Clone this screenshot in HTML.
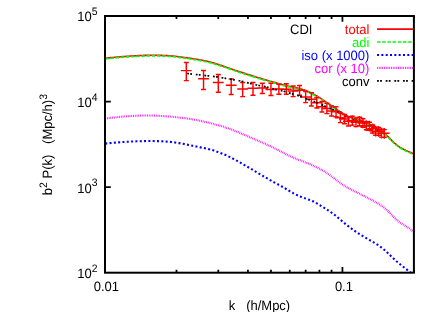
<!DOCTYPE html>
<html><head><meta charset="utf-8"><title>CDI</title>
<style>
html,body{margin:0;padding:0;background:#fff;}
body{width:436px;height:312px;overflow:hidden;font-family:"Liberation Sans",sans-serif;}
svg{display:block;will-change:transform;}
svg text{font-family:"Liberation Sans",sans-serif;font-size:13.5px;white-space:pre;text-rendering:geometricPrecision;}
</style></head><body>
<svg width="436" height="312" viewBox="0 0 436 312">
<rect width="436" height="312" fill="#fff"/>
<defs><clipPath id="c"><rect x="105.0" y="16.0" width="308.9" height="256.7"/></clipPath></defs>
<g fill="none" stroke-width="1.7" stroke-linejoin="round" clip-path="url(#c)">
<path d="M105.25,58.30 L107.19,58.08 L109.13,57.86 L111.07,57.66 L113.01,57.46 L114.95,57.28 L116.89,57.10 L118.83,56.93 L120.77,56.77 L122.71,56.61 L124.65,56.47 L126.59,56.33 L128.53,56.20 L130.47,56.07 L132.41,55.95 L134.35,55.84 L136.29,55.73 L138.23,55.63 L140.17,55.55 L142.11,55.47 L144.06,55.40 L146.00,55.35 L147.94,55.30 L149.88,55.27 L151.82,55.25 L153.76,55.25 L155.70,55.26 L157.64,55.29 L159.58,55.33 L161.52,55.39 L163.46,55.47 L165.40,55.56 L167.34,55.67 L169.28,55.80 L171.22,55.95 L173.16,56.12 L175.10,56.31 L177.04,56.51 L178.98,56.74 L180.92,56.99 L182.86,57.25 L184.80,57.52 L186.74,57.80 L188.68,58.09 L190.62,58.39 L192.56,58.69 L194.50,58.99 L196.44,59.30 L198.38,59.63 L200.32,59.97 L202.26,60.33 L204.20,60.71 L206.14,61.13 L208.08,61.58 L210.02,62.06 L211.96,62.58 L213.90,63.14 L215.84,63.73 L217.78,64.34 L219.72,64.97 L221.67,65.62 L223.61,66.28 L225.55,66.95 L227.49,67.63 L229.43,68.30 L231.37,68.97 L233.31,69.64 L235.25,70.30 L237.19,70.95 L239.13,71.60 L241.07,72.24 L243.01,72.88 L244.95,73.51 L246.89,74.14 L248.83,74.76 L250.77,75.37 L252.71,75.98 L254.65,76.58 L256.59,77.18 L258.53,77.77 L260.47,78.36 L262.41,78.94 L264.35,79.51 L266.29,80.08 L268.23,80.65 L270.17,81.21 L272.11,81.77 L274.05,82.33 L275.99,82.88 L277.93,83.43 L279.87,83.97 L281.81,84.50 L283.75,85.01 L285.69,85.50 L287.63,85.97 L289.57,86.41 L291.51,86.82 L293.45,87.21 L295.39,87.61 L297.33,88.04 L299.28,88.51 L301.22,89.04 L303.16,89.65 L305.10,90.34 L307.04,91.10 L308.98,91.93 L310.92,92.84 L312.86,93.82 L314.80,94.88 L316.74,95.99 L318.68,97.17 L320.62,98.40 L322.56,99.67 L324.50,100.98 L326.44,102.32 L328.38,103.67 L330.32,105.02 L332.26,106.37 L334.20,107.71 L336.14,109.03 L338.08,110.33 L340.02,111.61 L341.96,112.87 L343.90,114.07 L345.84,115.19 L347.78,116.20 L349.72,117.09 L351.66,117.82 L353.60,118.43 L355.54,118.98 L357.48,119.53 L359.42,120.11 L361.36,120.79 L363.30,121.56 L365.24,122.43 L367.18,123.36 L369.12,124.34 L371.06,125.36 L373.00,126.41 L374.94,127.47 L376.89,128.54 L378.83,129.61 L380.77,130.75 L382.71,132.03 L384.65,133.53 L386.59,135.27 L388.53,137.16 L390.47,139.12 L392.41,141.07 L394.35,142.92 L396.29,144.58 L398.23,146.04 L400.17,147.34 L402.11,148.49 L404.05,149.52 L405.99,150.48 L407.93,151.37 L409.87,152.24 L411.81,153.10 L413.75,154.00" stroke="#ff0000" stroke-width="1.6"/>
<path d="M105.25,58.90 L107.19,58.68 L109.13,58.46 L111.07,58.26 L113.01,58.06 L114.95,57.88 L116.89,57.70 L118.83,57.53 L120.77,57.37 L122.71,57.21 L124.65,57.07 L126.59,56.93 L128.53,56.80 L130.47,56.67 L132.41,56.55 L134.35,56.44 L136.29,56.33 L138.23,56.23 L140.17,56.15 L142.11,56.07 L144.06,56.00 L146.00,55.95 L147.94,55.90 L149.88,55.87 L151.82,55.85 L153.76,55.85 L155.70,55.86 L157.64,55.89 L159.58,55.93 L161.52,55.99 L163.46,56.07 L165.40,56.16 L167.34,56.27 L169.28,56.40 L171.22,56.55 L173.16,56.72 L175.10,56.91 L177.04,57.11 L178.98,57.34 L180.92,57.59 L182.86,57.85 L184.80,58.12 L186.74,58.40 L188.68,58.69 L190.62,58.99 L192.56,59.29 L194.50,59.59 L196.44,59.90 L198.38,60.23 L200.32,60.57 L202.26,60.93 L204.20,61.31 L206.14,61.73 L208.08,62.18 L210.02,62.66 L211.96,63.18 L213.90,63.74 L215.84,64.33 L217.78,64.94 L219.72,65.57 L221.67,66.22 L223.61,66.88 L225.55,67.55 L227.49,68.23 L229.43,68.90 L231.37,69.57 L233.31,70.24 L235.25,70.90 L237.19,71.55 L239.13,72.20 L241.07,72.84 L243.01,73.48 L244.95,74.11 L246.89,74.74 L248.83,75.36 L250.77,75.97 L252.71,76.58 L254.65,77.18 L256.59,77.78 L258.53,78.37 L260.47,78.96 L262.41,79.54 L264.35,80.11 L266.29,80.68 L268.23,81.25 L270.17,81.81 L272.11,82.37 L274.05,82.93 L275.99,83.48 L277.93,84.03 L279.87,84.57 L281.81,85.10 L283.75,85.61 L285.69,86.10 L287.63,86.57 L289.57,87.01 L291.51,87.42 L293.45,87.81 L295.39,88.21 L297.33,88.64 L299.28,89.11 L301.22,89.64 L303.16,90.25 L305.10,90.94 L307.04,91.70 L308.98,92.53 L310.92,93.44 L312.86,94.42 L314.80,95.48 L316.74,96.59 L318.68,97.77 L320.62,99.00 L322.56,100.27 L324.50,101.58 L326.44,102.92 L328.38,104.27 L330.32,105.62 L332.26,106.97 L334.20,108.31 L336.14,109.63 L338.08,110.93 L340.02,112.21 L341.96,113.47 L343.90,114.67 L345.84,115.79 L347.78,116.80 L349.72,117.69 L351.66,118.42 L353.60,119.03 L355.54,119.58 L357.48,120.13 L359.42,120.71 L361.36,121.39 L363.30,122.16 L365.24,123.03 L367.18,123.96 L369.12,124.94 L371.06,125.96 L373.00,127.01 L374.94,128.07 L376.89,129.14 L378.83,130.21 L380.77,131.35 L382.71,132.63 L384.65,134.13 L386.59,135.87 L388.53,137.76 L390.47,139.72 L392.41,141.67 L394.35,143.52 L396.29,145.18 L398.23,146.64 L400.17,147.94 L402.11,149.09 L404.05,150.12 L405.99,151.08 L407.93,151.97 L409.87,152.84 L411.81,153.70 L413.75,154.60" stroke="#00ff00" stroke-dasharray="3.5 1.68"/>
<path d="M105.25,143.60 L107.19,143.40 L109.13,143.20 L111.07,143.02 L113.01,142.84 L114.96,142.67 L116.90,142.50 L118.84,142.34 L120.78,142.20 L122.72,142.05 L124.66,141.92 L126.60,141.80 L128.54,141.68 L130.49,141.58 L132.43,141.48 L134.37,141.39 L136.31,141.31 L138.25,141.25 L140.19,141.19 L142.13,141.14 L144.07,141.10 L146.02,141.07 L147.96,141.06 L149.90,141.05 L151.84,141.06 L153.78,141.07 L155.72,141.10 L157.66,141.15 L159.60,141.21 L161.54,141.30 L163.49,141.40 L165.43,141.52 L167.37,141.67 L169.31,141.84 L171.25,142.04 L173.19,142.26 L175.13,142.52 L177.07,142.80 L179.02,143.11 L180.96,143.45 L182.90,143.80 L184.84,144.17 L186.78,144.56 L188.72,144.96 L190.66,145.36 L192.60,145.77 L194.54,146.18 L196.49,146.58 L198.43,146.98 L200.37,147.37 L202.31,147.76 L204.25,148.15 L206.19,148.55 L208.13,148.99 L210.07,149.47 L212.02,150.01 L213.96,150.59 L215.90,151.23 L217.84,151.91 L219.78,152.63 L221.72,153.40 L223.66,154.21 L225.60,155.07 L227.55,155.97 L229.49,156.90 L231.43,157.87 L233.37,158.87 L235.31,159.90 L237.25,160.95 L239.19,162.03 L241.13,163.12 L243.07,164.24 L245.02,165.36 L246.96,166.50 L248.90,167.65 L250.84,168.80 L252.78,169.95 L254.72,171.11 L256.66,172.26 L258.60,173.41 L260.55,174.56 L262.49,175.70 L264.43,176.84 L266.37,177.96 L268.31,179.08 L270.25,180.18 L272.19,181.26 L274.13,182.33 L276.08,183.38 L278.02,184.42 L279.96,185.46 L281.90,186.53 L283.84,187.62 L285.78,188.77 L287.72,189.95 L289.66,191.14 L291.60,192.29 L293.55,193.37 L295.49,194.37 L297.43,195.28 L299.37,196.13 L301.31,196.92 L303.25,197.67 L305.19,198.37 L307.13,199.05 L309.08,199.73 L311.02,200.47 L312.96,201.30 L314.90,202.25 L316.84,203.35 L318.78,204.54 L320.72,205.75 L322.66,206.93 L324.61,208.11 L326.55,209.31 L328.49,210.54 L330.43,211.83 L332.37,213.20 L334.31,214.67 L336.25,216.22 L338.19,217.82 L340.13,219.46 L342.08,221.10 L344.02,222.74 L345.96,224.33 L347.90,225.88 L349.84,227.37 L351.78,228.82 L353.72,230.22 L355.66,231.57 L357.61,232.87 L359.55,234.12 L361.49,235.33 L363.43,236.51 L365.37,237.65 L367.31,238.77 L369.25,239.88 L371.19,240.97 L373.13,242.07 L375.08,243.21 L377.02,244.40 L378.96,245.67 L380.90,247.06 L382.84,248.58 L384.78,250.24 L386.72,252.01 L388.66,253.85 L390.61,255.73 L392.55,257.60 L394.49,259.43 L396.43,261.18 L398.37,262.85 L400.31,264.45 L402.25,266.00 L404.19,267.52 L406.14,269.03 L408.08,270.55 L410.02,272.10 L411.96,273.74 L413.90,275.50" stroke="#0000ff" stroke-width="2.1" stroke-dasharray="2 2.32"/>
<path d="M105.25,118.55 L107.19,118.31 L109.13,118.07 L111.07,117.84 L113.01,117.62 L114.95,117.41 L116.89,117.20 L118.83,117.01 L120.77,116.82 L122.71,116.64 L124.65,116.48 L126.59,116.32 L128.53,116.18 L130.47,116.05 L132.41,115.93 L134.35,115.82 L136.29,115.73 L138.23,115.65 L140.17,115.59 L142.11,115.54 L144.06,115.50 L146.00,115.48 L147.94,115.48 L149.88,115.50 L151.82,115.53 L153.76,115.58 L155.70,115.65 L157.64,115.73 L159.58,115.83 L161.52,115.94 L163.46,116.06 L165.40,116.20 L167.34,116.35 L169.28,116.51 L171.22,116.69 L173.16,116.87 L175.10,117.06 L177.04,117.26 L178.98,117.47 L180.92,117.70 L182.86,117.93 L184.80,118.18 L186.74,118.44 L188.68,118.72 L190.62,119.02 L192.56,119.34 L194.50,119.68 L196.44,120.03 L198.38,120.41 L200.32,120.82 L202.26,121.25 L204.20,121.69 L206.14,122.15 L208.08,122.63 L210.02,123.10 L211.96,123.58 L213.90,124.08 L215.84,124.58 L217.78,125.10 L219.72,125.64 L221.67,126.21 L223.61,126.80 L225.55,127.43 L227.49,128.09 L229.43,128.78 L231.37,129.50 L233.31,130.24 L235.25,131.01 L237.19,131.80 L239.13,132.60 L241.07,133.41 L243.01,134.24 L244.95,135.07 L246.89,135.91 L248.83,136.74 L250.77,137.58 L252.71,138.41 L254.65,139.25 L256.59,140.08 L258.53,140.92 L260.47,141.77 L262.41,142.62 L264.35,143.48 L266.29,144.36 L268.23,145.25 L270.17,146.16 L272.11,147.08 L274.05,148.03 L275.99,149.00 L277.93,149.99 L279.87,150.99 L281.81,152.00 L283.75,153.00 L285.69,153.99 L287.63,154.96 L289.57,155.90 L291.51,156.81 L293.45,157.67 L295.39,158.49 L297.33,159.28 L299.28,160.04 L301.22,160.79 L303.16,161.53 L305.10,162.29 L307.04,163.06 L308.98,163.85 L310.92,164.66 L312.86,165.51 L314.80,166.40 L316.74,167.34 L318.68,168.33 L320.62,169.36 L322.56,170.46 L324.50,171.61 L326.44,172.83 L328.38,174.12 L330.32,175.48 L332.26,176.90 L334.20,178.37 L336.14,179.85 L338.08,181.33 L340.02,182.76 L341.96,184.13 L343.90,185.42 L345.84,186.61 L347.78,187.73 L349.72,188.79 L351.66,189.81 L353.60,190.80 L355.54,191.77 L357.48,192.74 L359.42,193.71 L361.36,194.67 L363.30,195.64 L365.24,196.61 L367.18,197.59 L369.12,198.57 L371.06,199.58 L373.00,200.61 L374.94,201.68 L376.89,202.80 L378.83,203.99 L380.77,205.26 L382.71,206.62 L384.65,208.11 L386.59,209.73 L388.53,211.53 L390.47,213.51 L392.41,215.59 L394.35,217.61 L396.29,219.44 L398.23,221.06 L400.17,222.51 L402.11,223.83 L404.05,225.08 L405.99,226.30 L407.93,227.53 L409.87,228.81 L411.81,230.21 L413.75,231.75" stroke="#ff00ff" stroke-width="2.1" stroke-dasharray="0.8 0.95"/>
</g>
<path d="M186.30,62.50V80.60M183.80,62.50H188.80M183.80,80.60H188.80M180.90,70.60H191.70M186.30,65.20V76.00M203.53,70.50V89.40M201.03,70.50H206.03M201.03,89.40H206.03M198.13,78.80H208.93M203.53,73.40V84.20M218.28,74.40V92.20M215.78,74.40H220.78M215.78,92.20H220.78M212.88,82.50H223.68M218.28,77.10V87.90M231.19,79.00V94.40M228.69,79.00H233.69M228.69,94.40H233.69M225.79,85.20H236.59M231.19,79.80V90.60M242.66,82.50V96.60M240.16,82.50H245.16M240.16,96.60H245.16M237.26,88.90H248.06M242.66,83.50V94.30M252.98,82.40V95.20M250.48,82.40H255.48M250.48,95.20H255.48M247.58,88.20H258.38M252.98,82.80V93.60M262.36,83.30V93.40M259.86,83.30H264.86M259.86,93.40H264.86M256.96,88.00H267.76M262.36,82.60V93.40M270.95,83.30V95.40M268.45,83.30H273.45M268.45,95.40H273.45M265.55,89.40H276.35M270.95,84.00V94.80M278.89,84.20V94.20M276.39,84.20H281.39M276.39,94.20H281.39M273.49,89.00H284.29M278.89,83.60V94.40M286.26,83.80V94.20M283.76,83.80H288.76M283.76,94.20H288.76M280.86,89.20H291.66M286.26,83.80V94.60M293.14,85.90V96.60M290.64,85.90H295.64M290.64,96.60H295.64M287.74,91.00H298.54M293.14,85.60V96.40M299.58,85.40V95.20M297.08,85.40H302.08M297.08,95.20H302.08M294.18,90.20H304.98M299.58,84.80V95.60M305.65,91.60V102.60M303.15,91.60H308.15M303.15,102.60H308.15M300.25,97.00H311.05M305.65,91.60V102.40M311.38,92.60V106.00M308.88,92.60H313.88M308.88,106.00H313.88M305.98,99.30H316.78M311.38,93.90V104.70M316.81,97.50V107.90M314.31,97.50H319.31M314.31,107.90H319.31M311.41,102.70H322.21M316.81,97.30V108.10M321.96,101.40V112.00M319.46,101.40H324.46M319.46,112.00H324.46M316.56,106.70H327.36M321.96,101.30V112.10M326.88,103.20V113.60M324.38,103.20H329.38M324.38,113.60H329.38M321.48,108.40H332.28M326.88,103.00V113.80M331.56,106.00V116.00M329.06,106.00H334.06M329.06,116.00H334.06M326.16,111.00H336.96M331.56,105.60V116.40M336.05,106.60V116.80M333.55,106.60H338.55M333.55,116.80H338.55M330.65,111.70H341.45M336.05,106.30V117.10" stroke="#ff0000" stroke-width="1.45" fill="none"/>
<path d="M187.20,73.50 L188.44,73.65 L189.68,73.79 L190.91,73.94 L192.15,74.08 L193.39,74.21 L194.63,74.35 L195.86,74.48 L197.10,74.62 L198.34,74.75 L199.58,74.88 L200.82,75.01 L202.05,75.14 L203.29,75.28 L204.53,75.41 L205.77,75.55 L207.00,75.69 L208.24,75.83 L209.48,75.98 L210.72,76.13 L211.95,76.28 L213.19,76.44 L214.43,76.60 L215.67,76.77 L216.91,76.95 L218.14,77.13 L219.38,77.32 L220.62,77.51 L221.86,77.72 L223.09,77.92 L224.33,78.13 L225.57,78.34 L226.81,78.56 L228.05,78.78 L229.28,78.99 L230.52,79.21 L231.76,79.43 L233.00,79.64 L234.23,79.86 L235.47,80.08 L236.71,80.30 L237.95,80.54 L239.18,80.78 L240.42,81.03 L241.66,81.29 L242.90,81.58 L244.14,81.87 L245.37,82.19 L246.61,82.51 L247.85,82.84 L249.09,83.17 L250.32,83.50 L251.56,83.83 L252.80,84.14 L254.04,84.45 L255.28,84.74 L256.51,85.00 L257.75,85.25 L258.99,85.48 L260.23,85.70 L261.46,85.92 L262.70,86.15 L263.94,86.41 L265.18,86.69 L266.42,87.00 L267.65,87.33 L268.89,87.68 L270.13,88.03 L271.37,88.37 L272.60,88.70 L273.84,89.00 L275.08,89.29 L276.32,89.55 L277.55,89.81 L278.79,90.07 L280.03,90.34 L281.27,90.61 L282.51,90.91 L283.74,91.23 L284.98,91.58 L286.22,91.97 L287.46,92.36 L288.69,92.77 L289.93,93.17 L291.17,93.55 L292.41,93.92 L293.65,94.27 L294.88,94.62 L296.12,94.98 L297.36,95.36 L298.60,95.76 L299.83,96.20 L301.07,96.65 L302.31,97.12 L303.55,97.60 L304.78,98.07 L306.02,98.53 L307.26,98.99 L308.50,99.42 L309.74,99.86 L310.97,100.30 L312.21,100.74 L313.45,101.20 L314.69,101.67 L315.92,102.17 L317.16,102.69 L318.40,103.23 L319.64,103.78 L320.88,104.33 L322.11,104.89 L323.35,105.44 L324.59,105.98 L325.83,106.52 L327.06,107.05 L328.30,107.57 L329.54,108.11 L330.78,108.65 L332.02,109.20 L333.25,109.78 L334.49,110.38 L335.73,110.99 L336.97,111.63 L338.20,112.29 L339.44,112.97 L340.68,113.65 L341.92,114.35 L343.15,115.06 L344.39,115.77 L345.63,116.46 L346.87,117.12 L348.11,117.75 L349.34,118.32 L350.58,118.83 L351.82,119.28 L353.06,119.68 L354.29,120.04 L355.53,120.39 L356.77,120.73 L358.01,121.08 L359.25,121.45 L360.48,121.87 L361.72,122.32 L362.96,122.82 L364.20,123.36 L365.43,123.92 L366.67,124.51 L367.91,125.13 L369.15,125.76 L370.38,126.40 L371.62,127.05 L372.86,127.71 L374.10,128.38 L375.34,129.07 L376.57,129.76 L377.81,130.46 L379.05,131.18 L380.29,131.91 L381.52,132.66 L382.76,133.42 L384.00,134.20" stroke="#000" stroke-width="1.7" stroke-dasharray="1.8 1.25 1.8 3.8" fill="none"/>
<path d="M340.34,113.00V122.60M337.84,113.00H342.84M337.84,122.60H342.84M334.94,117.70H345.74M340.34,112.30V123.10M344.47,114.40V123.80M341.97,114.40H346.97M341.97,123.80H346.97M339.07,119.00H349.87M344.47,113.60V124.40M348.44,116.80V126.00M345.94,116.80H350.94M345.94,126.00H350.94M343.04,121.30H353.84M348.44,115.90V126.70M352.26,116.30V125.10M349.76,116.30H354.76M349.76,125.10H354.76M346.86,120.60H357.66M352.26,115.20V126.00M355.94,118.00V126.60M353.44,118.00H358.44M353.44,126.60H358.44M350.54,122.20H361.34M355.94,116.80V127.60M359.49,117.30V125.70M356.99,117.30H361.99M356.99,125.70H361.99M354.09,121.40H364.89M359.49,116.00V126.80M362.93,118.80V127.20M360.43,118.80H365.43M360.43,127.20H365.43M357.53,122.90H368.33M362.93,117.50V128.30M366.26,121.60V129.80M363.76,121.60H368.76M363.76,129.80H368.76M360.86,125.60H371.66M366.26,120.20V131.00M369.48,122.20V130.20M366.98,122.20H371.98M366.98,130.20H371.98M364.08,126.10H374.88M369.48,120.70V131.50M372.61,124.90V132.90M370.11,124.90H375.11M370.11,132.90H375.11M367.21,128.80H378.01M372.61,123.40V134.20M375.64,127.20V135.20M373.14,127.20H378.14M373.14,135.20H378.14M370.24,131.10H381.04M375.64,125.70V136.50M378.58,127.50V135.30M376.08,127.50H381.08M376.08,135.30H381.08M373.18,131.30H383.98M378.58,125.90V136.70M381.45,129.30V137.10M378.95,129.30H383.95M378.95,137.10H383.95M376.05,133.10H386.85M381.45,127.70V138.50M384.24,129.60V137.20M381.74,129.60H386.74M381.74,137.20H386.74M378.84,133.30H389.64M384.24,127.90V138.70" stroke="#ff0000" stroke-width="1.45" fill="none"/>
<path d="M176.47,272.70v-3.0M176.47,16.00v3.0M218.28,272.70v-3.0M218.28,16.00v3.0M247.95,272.70v-3.0M247.95,16.00v3.0M270.95,272.70v-3.0M270.95,16.00v3.0M289.75,272.70v-3.0M289.75,16.00v3.0M305.65,272.70v-3.0M305.65,16.00v3.0M319.42,272.70v-3.0M319.42,16.00v3.0M331.56,272.70v-3.0M331.56,16.00v3.0M342.43,272.70v-5.8M342.43,16.00v5.8M413.90,272.70v-3.0M413.90,16.00v3.0M105.00,101.57h5.8M413.90,101.57h-5.8M105.00,187.13h5.8M413.90,187.13h-5.8" stroke="#000" stroke-width="1.75" fill="none"/>
<rect x="105.0" y="16.0" width="308.9" height="256.7" fill="none" stroke="#000" stroke-width="2"/>
<text transform="translate(97.60,21.40) scale(0.963,1)" text-anchor="end" fill="#000">10<tspan dy="-6.2" font-size="10.8">5</tspan></text><text transform="translate(97.60,106.97) scale(0.963,1)" text-anchor="end" fill="#000">10<tspan dy="-6.2" font-size="10.8">4</tspan></text><text transform="translate(97.60,192.53) scale(0.963,1)" text-anchor="end" fill="#000">10<tspan dy="-6.2" font-size="10.8">3</tspan></text><text transform="translate(97.60,278.10) scale(0.963,1)" text-anchor="end" fill="#000">10<tspan dy="-6.2" font-size="10.8">2</tspan></text><text transform="translate(106.40,290.70) scale(0.963,1)" text-anchor="middle" fill="#000">0.01</text><text transform="translate(343.93,290.70) scale(0.963,1)" text-anchor="middle" fill="#000">0.1</text><text transform="translate(259.50,309.80) scale(0.963,1)" text-anchor="middle" fill="#000">k   (h/Mpc)</text><text transform="translate(52.20,144.60) rotate(-90) scale(0.963,1)" text-anchor="middle" fill="#000">b<tspan dy="-5.6" font-size="10.8">2</tspan><tspan dy="5.6"> P(k)   (Mpc/h)</tspan><tspan dy="-5.6" font-size="10.8">3</tspan></text><text transform="translate(290.00,33.75) scale(0.963,1)" text-anchor="start" fill="#000">CDI</text>
<text transform="translate(369.40,33.80) scale(0.963,1)" text-anchor="end" fill="#ff0000">total</text><path d="M377.05,29.05H413.4" stroke="#ff0000" stroke-width="1.7" fill="none"/><text transform="translate(369.40,46.75) scale(0.963,1)" text-anchor="end" fill="#00ff00">adi</text><path d="M377.05,42.0H413.4" stroke="#00ff00" stroke-width="1.7" stroke-dasharray="3.5 1.68" fill="none"/><text transform="translate(369.40,59.70) scale(0.963,1)" text-anchor="end" fill="#0000ff">iso (x 1000)</text><path d="M377.05,54.95H413.4" stroke="#0000ff" stroke-width="2.1" stroke-dasharray="2 2.32" fill="none"/><text transform="translate(369.40,72.65) scale(0.963,1)" text-anchor="end" fill="#ff00ff">cor (x 10)</text><path d="M377.05,67.9H413.4" stroke="#ff00ff" stroke-width="2.1" stroke-dasharray="0.8 0.95" fill="none"/><text transform="translate(369.40,85.65) scale(0.963,1)" text-anchor="end" fill="#000000">conv</text><path d="M377.05,80.9H413.4" stroke="#000000" stroke-width="1.7" stroke-dasharray="1.8 1.25 1.8 3.8" fill="none"/>
</svg>
</body></html>
